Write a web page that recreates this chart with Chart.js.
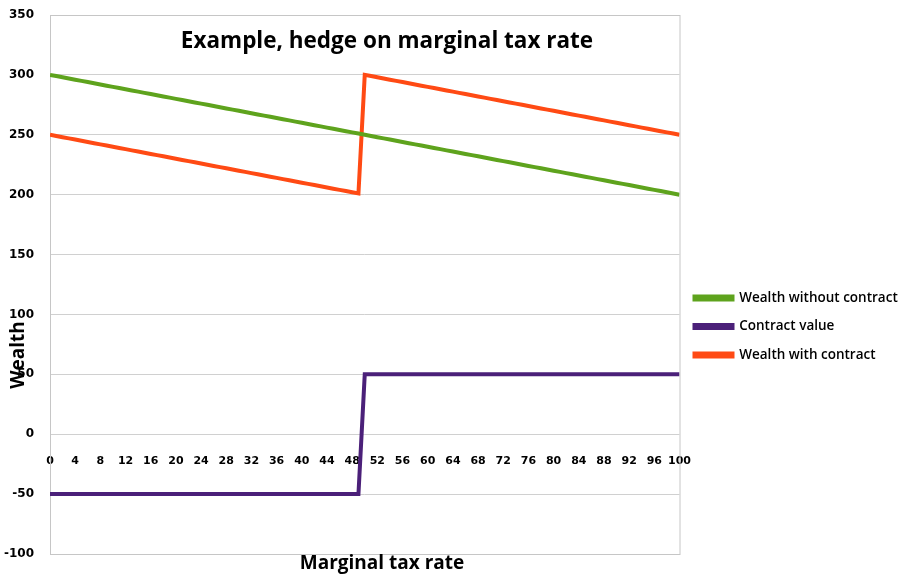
<!DOCTYPE html>
<html>
<head>
<meta charset="utf-8">
<script src="https://cdn.jsdelivr.net/npm/chart.js@4"></script>
<style>
  html, body { margin: 0; padding: 0; background: #fff; }
  #wrap { width: 904px; height: 576px; }
</style>
</head>
<body>
<div id="wrap"><canvas id="chart"></canvas></div>
<script>
const taxRates = [
  0, 1, 2, 3, 4, 5, 6, 7, 8, 9,
  10, 11, 12, 13, 14, 15, 16, 17, 18, 19,
  20, 21, 22, 23, 24, 25, 26, 27, 28, 29,
  30, 31, 32, 33, 34, 35, 36, 37, 38, 39,
  40, 41, 42, 43, 44, 45, 46, 47, 48, 49,
  50, 51, 52, 53, 54, 55, 56, 57, 58, 59,
  60, 61, 62, 63, 64, 65, 66, 67, 68, 69,
  70, 71, 72, 73, 74, 75, 76, 77, 78, 79,
  80, 81, 82, 83, 84, 85, 86, 87, 88, 89,
  90, 91, 92, 93, 94, 95, 96, 97, 98, 99,
  100
];

const wealthWithout = [
  300, 299, 298, 297, 296, 295, 294, 293, 292, 291,
  290, 289, 288, 287, 286, 285, 284, 283, 282, 281,
  280, 279, 278, 277, 276, 275, 274, 273, 272, 271,
  270, 269, 268, 267, 266, 265, 264, 263, 262, 261,
  260, 259, 258, 257, 256, 255, 254, 253, 252, 251,
  250, 249, 248, 247, 246, 245, 244, 243, 242, 241,
  240, 239, 238, 237, 236, 235, 234, 233, 232, 231,
  230, 229, 228, 227, 226, 225, 224, 223, 222, 221,
  220, 219, 218, 217, 216, 215, 214, 213, 212, 211,
  210, 209, 208, 207, 206, 205, 204, 203, 202, 201,
  200
];

const contractValue = [
  -50, -50, -50, -50, -50, -50, -50, -50, -50, -50,
  -50, -50, -50, -50, -50, -50, -50, -50, -50, -50,
  -50, -50, -50, -50, -50, -50, -50, -50, -50, -50,
  -50, -50, -50, -50, -50, -50, -50, -50, -50, -50,
  -50, -50, -50, -50, -50, -50, -50, -50, -50, -50,
  50, 50, 50, 50, 50, 50, 50, 50, 50, 50,
  50, 50, 50, 50, 50, 50, 50, 50, 50, 50,
  50, 50, 50, 50, 50, 50, 50, 50, 50, 50,
  50, 50, 50, 50, 50, 50, 50, 50, 50, 50,
  50, 50, 50, 50, 50, 50, 50, 50, 50, 50,
  50
];

const wealthWith = [
  250, 249, 248, 247, 246, 245, 244, 243, 242, 241,
  240, 239, 238, 237, 236, 235, 234, 233, 232, 231,
  230, 229, 228, 227, 226, 225, 224, 223, 222, 221,
  220, 219, 218, 217, 216, 215, 214, 213, 212, 211,
  210, 209, 208, 207, 206, 205, 204, 203, 202, 201,
  300, 299, 298, 297, 296, 295, 294, 293, 292, 291,
  290, 289, 288, 287, 286, 285, 284, 283, 282, 281,
  280, 279, 278, 277, 276, 275, 274, 273, 272, 271,
  270, 269, 268, 267, 266, 265, 264, 263, 262, 261,
  260, 259, 258, 257, 256, 255, 254, 253, 252, 251,
  250
];

const seriesNames = ['Wealth without contract', 'Contract value', 'Wealth with contract'];
const seriesColors = ['#5EA31D', '#4B2079', '#FF4A14'];

// border box + free-floating titles, like the Excel layout
const decorPlugin = {
  id: 'decor',
  beforeDatasetsDraw(chart) {
    const {ctx, chartArea: a} = chart;
    ctx.save();
    ctx.strokeStyle = '#c6c6c6';
    ctx.lineWidth = 1;
    ctx.strokeRect(a.left + 0.5, a.top + 0.5, a.right - a.left, a.bottom - a.top);
    ctx.restore();
  },
  afterDraw(chart) {
    const {ctx} = chart;
    ctx.save();
    ctx.fillStyle = '#000';
    ctx.textAlign = 'center';
    ctx.textBaseline = 'middle';
    ctx.font = 'bold 22.5px "Open Sans"';
    ctx.fillText('Example, hedge on marginal tax rate', 387, 42);
    ctx.font = 'bold 19px "Open Sans"';
    ctx.fillText('Marginal tax rate', 382, 564);
    ctx.translate(19, 355);
    ctx.rotate(-Math.PI / 2);
    ctx.fillText('Wealth', 0, 0);
    ctx.restore();
  }
};

new Chart(document.getElementById('chart'), {
  type: 'line',
  data: {
    labels: taxRates,
    datasets: [wealthWithout, contractValue, wealthWith].map((d, i) => ({
      label: seriesNames[i],
      data: d,
      borderColor: seriesColors[i],
      backgroundColor: seriesColors[i],
      borderWidth: 4,
      pointRadius: 0,
      tension: 0
    }))
  },
  options: {
    responsive: true,
    maintainAspectRatio: false,
    animation: false,
    layout: { padding: { top: 15, bottom: 22, right: -2 } },
    plugins: {
      title: { display: false },
      tooltip: { enabled: false },
      legend: {
        position: 'right',
        align: 'center',
        title: { display: true, text: '', font: { size: 10 }, padding: { top: 0, bottom: 72 } },
        labels: {
          boxWidth: 38,
          boxHeight: 3,
          padding: 15,
          color: '#000',
          font: { family: 'Open Sans', size: 13.5, weight: '600' }
        }
      }
    },
    scales: {
      x: {
        type: 'linear',
        position: { y: 0 },
        min: 0,
        max: 100,
        grid: { display: false, drawTicks: false },
        border: { display: false },
        ticks: {
          stepSize: 4,
          autoSkip: false,
          maxRotation: 0,
          padding: 20,
          color: '#000',
          font: { family: 'DejaVu Sans', size: 11, weight: 'bold' }
        }
      },
      y: {
        min: -100,
        max: 350,
        grid: { color: '#d0d0d0', drawTicks: false },
        border: { display: false },
        ticks: {
          stepSize: 50,
          padding: 16,
          color: '#000',
          font: { family: 'DejaVu Sans', size: 12, weight: 'bold' }
        },
        afterFit(scale) {
          scale.width = 50;
          scale.paddingTop = 0;
          scale.paddingBottom = 0;
        }
      }
    }
  },
  plugins: [decorPlugin]
});
</script>
</body>
</html>
